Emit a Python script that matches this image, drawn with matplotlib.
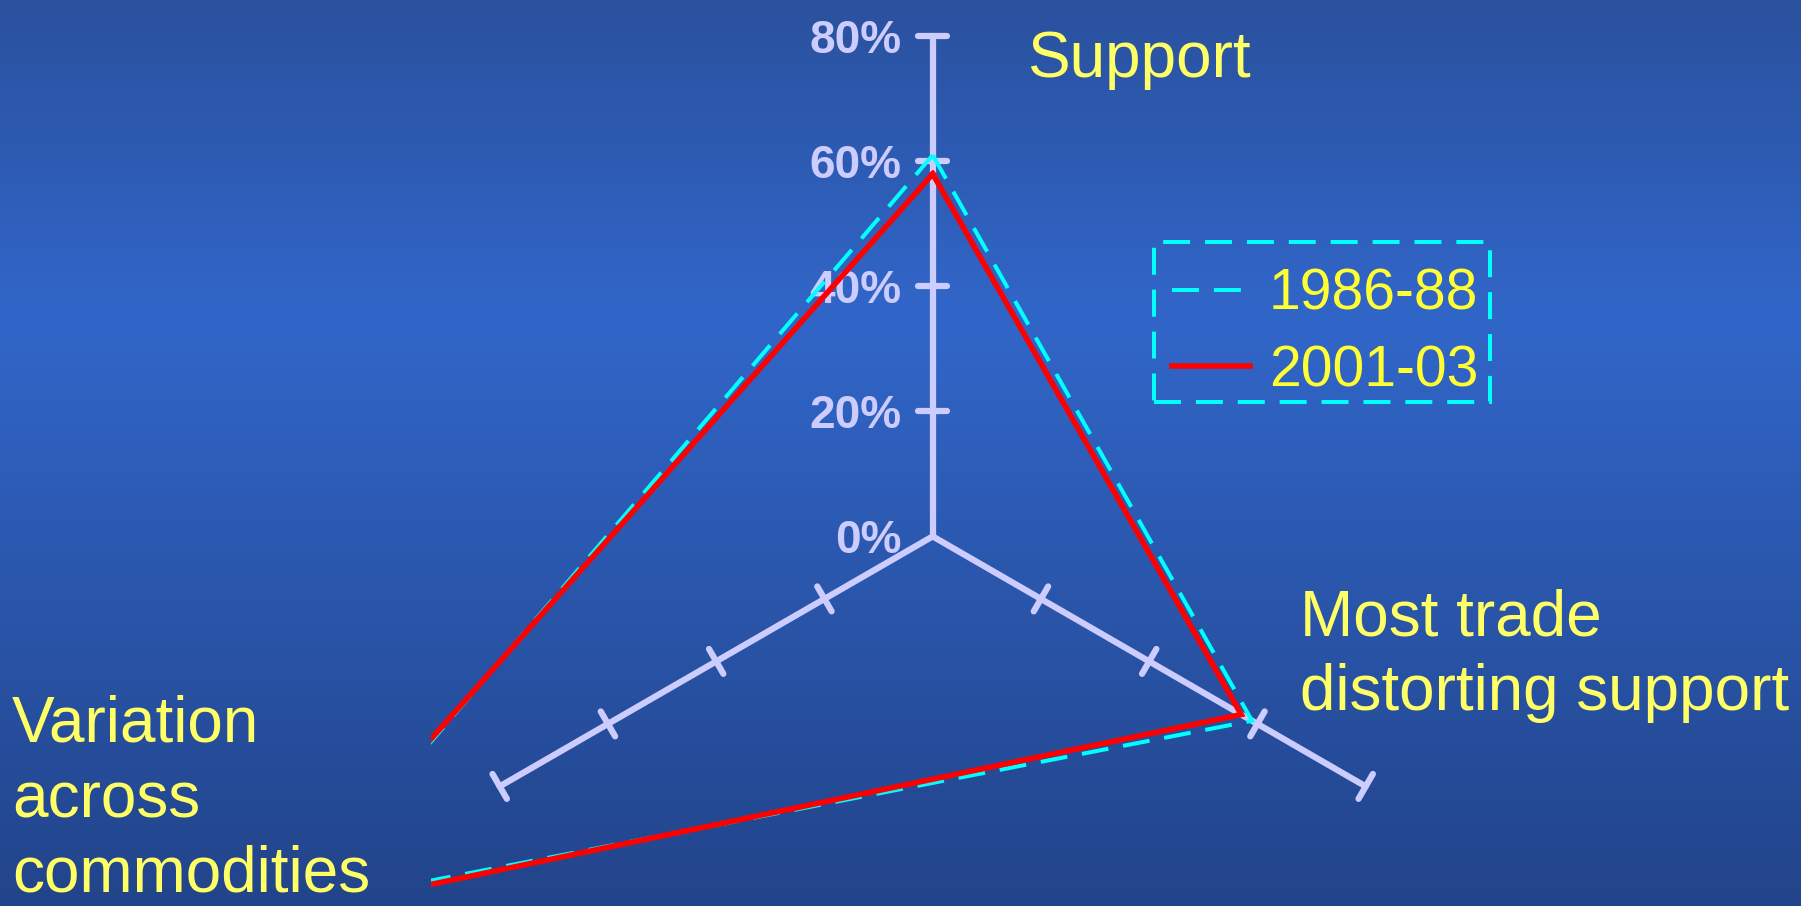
import numpy as np
import matplotlib
matplotlib.use("Agg")
import matplotlib.pyplot as plt
from matplotlib.colors import to_rgb
from matplotlib.patches import Rectangle

plt.rcParams['font.family'] = ['Liberation Sans', 'DejaVu Sans']

# data (percent), axes order: Support, Most trade distorting support, Variation across commodities
axis_names = ["Support", "Most trade\ndistorting support", "Variation\nacross\ncommodities"]
angles_deg = [90, -30, 210]
series_names = ["1986-88", "2001-03"]
vals_1986 = [61, 59, 119]
vals_2001 = [58, 57, 122]
ticks = [0, 20, 40, 60, 80]
tick_labels = ["0%", "20%", "40%", "60%", "80%"]

W, H = 1801, 906
cx, cy = 932.7, 536.4      # centre in pixels (from top)
ppu = 6.25                 # pixels per percent

fig = plt.figure(figsize=(W / 100, H / 100), dpi=100)

# background gradient
bg = fig.add_axes([0, 0, 1, 1])
stops = [0.0, 0.35, 1.0]
cols = [to_rgb("#2a519e"), to_rgb("#3166c9"), to_rgb("#22448a")]
yy = np.linspace(0, 1, 400)
grad = np.zeros((400, 1, 3))
for c in range(3):
    grad[:, 0, c] = np.interp(yy, stops, [k[c] for k in cols])
bg.imshow(grad, aspect='auto', extent=[0, 1, 0, 1], origin='upper')
bg.axis('off')

# main axes: left edge is the clip boundary of the plot area
left_px = 430.7
ax = fig.add_axes([left_px / W, 0, 1 - left_px / W, 1])
ax.set_xlim((left_px - cx) / ppu, (W - cx) / ppu)
ax.set_ylim(-(H - cy) / ppu, cy / ppu)
ax.patch.set_alpha(0)
ax.axis('off')

ang = np.radians(angles_deg)
axis_col = "#ccccff"

# axis spokes and ticks
for a in ang:
    ux, uy = np.cos(a), np.sin(a)
    px, py = -uy, ux
    ax.plot([0, 80 * ux], [0, 80 * uy], color=axis_col, lw=4.5,
            solid_capstyle='round', zorder=2)
    for t in ticks[1:]:
        hl = 2.3
        ax.plot([t * ux - hl * px, t * ux + hl * px], [t * uy - hl * py, t * uy + hl * py],
                color=axis_col, lw=4.5, solid_capstyle='round', zorder=2)

# tick labels on the vertical axis
for t, lab in zip(ticks, tick_labels):
    ax.text(-5, t, lab, ha='right', va='center_baseline', fontsize=33,
            fontweight='bold', color=axis_col, clip_on=False)


def closed_xy(v):
    v = np.array(v + v[:1], dtype=float)
    a = np.concatenate([ang, ang[:1]])
    return v * np.cos(a), v * np.sin(a)


x1, y1 = closed_xy(vals_1986)
x2, y2 = closed_xy(vals_2001)
ax.plot(x1, y1, color="#00ffff", lw=2.9, dashes=(6.7, 3.7),
        dash_joinstyle='miter', label=series_names[0], zorder=3)
ax.plot(x2, y2, color="#ff0000", lw=4, solid_joinstyle='miter',
        label=series_names[1], zorder=4)

# category labels, one text per line
lab_col = "#ffff66"
label_pos = [(1027, 77), (1300, 635), (12, 742)]   # left x, first baseline (px from top)
line_gap = 75
for name, (lx, ly) in zip(axis_names, label_pos):
    for i, line in enumerate(name.split("\n")):
        fig.text(lx / W, 1 - (ly + i * line_gap) / H, line, fontsize=46,
                 color=lab_col, ha='left', va='baseline')

# legend (no frame) plus dashed box around it
leg = ax.legend(loc='upper left', bbox_to_anchor=(1172 / W, 1 - 268 / H),
                bbox_transform=fig.transFigure, fontsize=41, borderaxespad=0,
                borderpad=0, handlelength=1.37, handletextpad=0.33,
                labelspacing=0.39, frameon=False, labelcolor="#ffff33")
box = Rectangle((1154 / W, 1 - 402 / H), 336 / W, 160 / H, transform=fig.transFigure,
                facecolor='none', edgecolor="#00ffff", lw=2.9,
                linestyle=(0, (6.7, 3.7)), zorder=5)
fig.add_artist(box)

fig.savefig("out.png", dpi=100)
